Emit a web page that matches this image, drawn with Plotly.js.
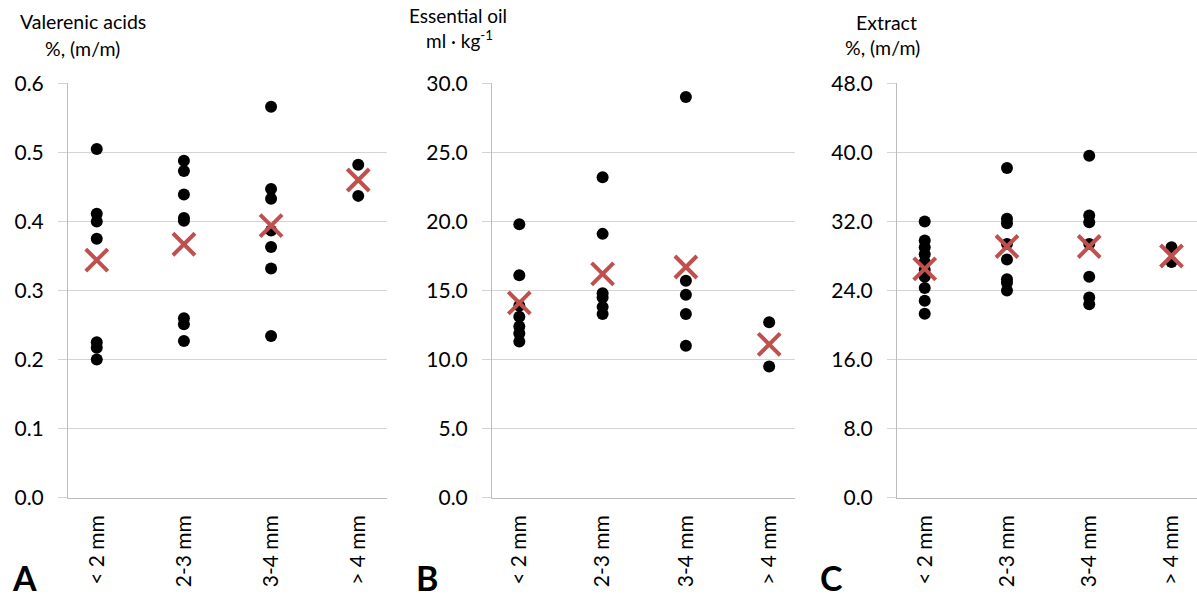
<!DOCTYPE html>
<html>
<head>
<meta charset="utf-8">
<script src="https://cdn.plot.ly/plotly-3.0.1.min.js"></script>
<style>
html, body { margin: 0; padding: 0; background: #fff; }
#chart { width: 1197px; height: 599px; }
</style>
</head>
<body>
<div id="chart"></div>
<script>
// ---- Data ----
const categories = ['< 2 mm', '2-3 mm', '3-4 mm', '> 4 mm'];
const categoryIndex = [1, 2, 3, 4];

// A: Valerenic acids, %, (m/m)
const valerenicLt2 = [0.505, 0.411, 0.400, 0.375, 0.225, 0.217, 0.200];
const valerenic2to3 = [0.488, 0.473, 0.439, 0.405, 0.401, 0.260, 0.251, 0.227];
const valerenic3to4 = [0.566, 0.447, 0.433, 0.387, 0.363, 0.332, 0.234];
const valerenicGt4 = [0.482, 0.437];
const valerenicMeans = [0.344, 0.367, 0.394, 0.460];

// B: Essential oil, ml·kg-1
const oilLt2 = [19.8, 16.1, 13.9, 13.1, 12.4, 11.9, 11.3];
const oil2to3 = [23.2, 19.1, 14.8, 14.5, 13.8, 13.3];
const oil3to4 = [29.0, 15.7, 14.7, 13.3, 11.0];
const oilGt4 = [12.7, 9.5];
const oilMeans = [14.1, 16.2, 16.7, 11.1];

// C: Extract, %, (m/m)
const extractLt2 = [32.0, 29.8, 29.0, 28.2, 27.3, 26.4, 25.6, 24.3, 22.8, 21.3];
const extract2to3 = [38.2, 32.3, 31.8, 29.4, 27.6, 25.3, 24.9, 24.0];
const extract3to4 = [39.6, 32.7, 31.9, 29.4, 25.6, 23.2, 22.4];
const extractGt4 = [29.0, 27.3];
const extractMeans = [26.5, 29.1, 29.1, 28.0];

// ---- Build traces ----
function dotTrace(groups, xa, ya) {
  const xs = [], ys = [];
  groups.forEach((g, i) => g.forEach(v => { xs.push(categoryIndex[i]); ys.push(v); }));
  return {
    type: 'scatter', mode: 'markers', x: xs, y: ys, xaxis: xa, yaxis: ya,
    marker: { color: '#000000', size: 12, line: { width: 0 } },
    hoverinfo: 'skip', showlegend: false, cliponaxis: false
  };
}
function meanTrace(means, xa, ya) {
  return {
    type: 'scatter', mode: 'markers', x: categoryIndex, y: means, xaxis: xa, yaxis: ya,
    marker: { symbol: 'x-thin', size: 22, color: '#C0504D', line: { width: 4, color: '#C0504D' } },
    hoverinfo: 'skip', showlegend: false, cliponaxis: false
  };
}

const traces = [
  dotTrace([valerenicLt2, valerenic2to3, valerenic3to4, valerenicGt4], 'x', 'y'),
  meanTrace(valerenicMeans, 'x', 'y'),
  dotTrace([oilLt2, oil2to3, oil3to4, oilGt4], 'x2', 'y2'),
  meanTrace(oilMeans, 'x2', 'y2'),
  dotTrace([extractLt2, extract2to3, extract3to4, extractGt4], 'x3', 'y3'),
  meanTrace(extractMeans, 'x3', 'y3')
];

const FONT = 'Lato, "Open Sans", sans-serif';
const gridCol = '#d4d4d4';
const lineCol = '#bcbcbc';
const W = 1197, H = 599;
const yDom = [(H - 497.7) / H, (H - 83.3) / H];

function xAxis(domain, range, anchor) {
  return {
    domain: domain, range: range, anchor: anchor,
    tickvals: categoryIndex, ticktext: categories, tickangle: -90,
    showgrid: false, zeroline: false, showline: true, linecolor: lineCol, linewidth: 1,
    ticks: '', tickfont: { family: FONT, size: 21, color: '#000' }, ticklabelstandoff: 8,
    fixedrange: true
  };
}
function yAxis(range, dtick, anchor) {
  return {
    domain: yDom, range: range, dtick: dtick, tick0: 0, anchor: anchor, tickformat: '.1f',
    showgrid: true, gridcolor: gridCol, gridwidth: 1, zeroline: false,
    showline: true, linecolor: lineCol, linewidth: 1,
    ticks: 'outside', ticklen: 9, tickcolor: gridCol, tickwidth: 1,
    tickfont: { family: FONT, size: 21, color: '#000' }, ticklabelstandoff: 10,
    fixedrange: true
  };
}

function ann(text, xpx, ypx, size, bold, xanchor) {
  return {
    text: bold ? '<b>' + text + '</b>' : text, xref: 'paper', yref: 'paper',
    x: xpx / W, y: 1 - ypx / H, xanchor: xanchor || 'center', yanchor: 'middle',
    showarrow: false, font: { family: FONT, size: size, color: '#000' }
  };
}

const layout = {
  width: W, height: H,
  margin: { l: 0, r: 0, t: 0, b: 0, pad: 0 },
  paper_bgcolor: '#ffffff', plot_bgcolor: '#ffffff',
  showlegend: false,
  xaxis: xAxis([68 / W, 387 / W], [0.67, 4.33], 'y'),
  yaxis: yAxis([0, 0.6], 0.1, 'x'),
  xaxis2: xAxis([492 / W, 795 / W], [0.672, 4.31], 'y2'),
  yaxis2: yAxis([0, 30], 5, 'x2'),
  xaxis3: xAxis([897 / W, 1], [0.663, 4.31], 'y3'),
  yaxis3: yAxis([0, 48], 8, 'x3'),
  annotations: [
    ann('Valerenic acids', 82.5, 22, 19.5),
    ann('%, (m/m)', 82.5, 48, 19.5),
    ann('Essential oil', 458, 15, 19),
    ann('ml · kg<sup>-1</sup>', 459, 40, 19),
    ann('Extract', 886, 23, 19.5),
    ann('%, (m/m)', 882, 47, 19.5),
    ann('A', 10, 577, 34, true, 'left'),
    ann('B', 414, 577, 34, true, 'left'),
    ann('C', 818, 577, 34, true, 'left')
  ]
};

Plotly.newPlot('chart', traces, layout, { staticPlot: true, displayModeBar: false });
</script>
</body>
</html>
